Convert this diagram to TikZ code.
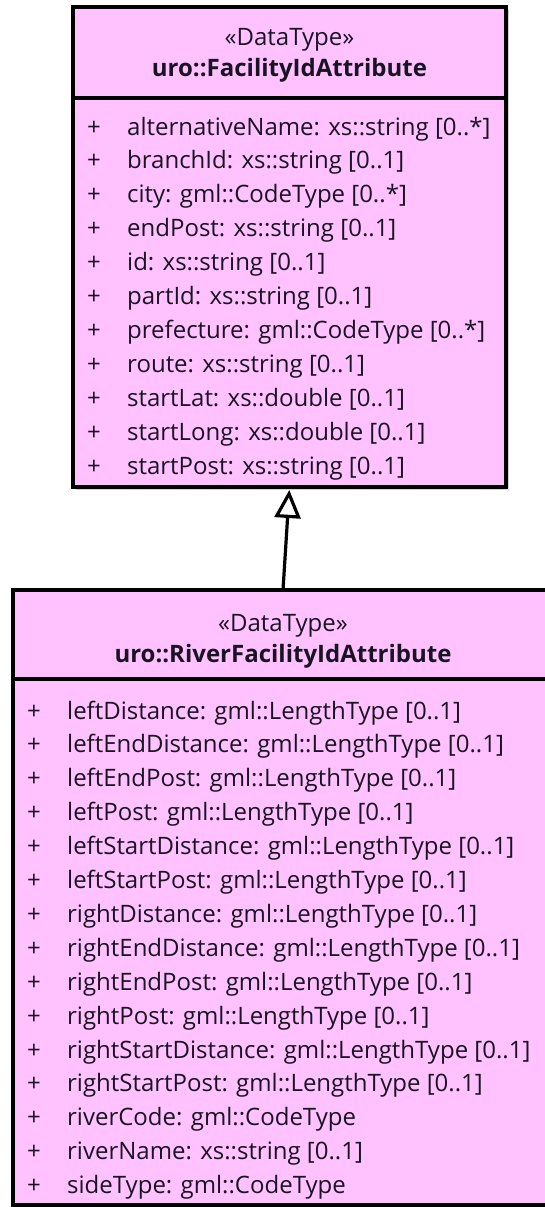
\documentclass[tikz,border=0pt]{standalone}
\usepackage{fontspec}
\setmainfont{Open Sans}
\usetikzlibrary{arrows.meta,positioning,shadows}
\definecolor{umlpink}{RGB}{255,194,255}
\definecolor{umlink}{RGB}{25,20,35}
\tikzset{
  classbox/.style={draw=black,line width=3.2pt,fill=umlpink,anchor=north west,outer sep=0pt,inner sep=0pt,
    drop shadow={shadow xshift=2.5pt,shadow yshift=-2.5pt,fill=black!35,opacity=0.5}},
  classtitle/.style={inner sep=0pt,align=center,text=umlink,font=\fontsize{24}{31}\selectfont},
  attr/.style={anchor=base west,inner sep=0pt,text=umlink,font=\fontsize{24}{28}\selectfont},
  gen/.style={-{Triangle[open,length=28pt,width=26pt]},draw=black,line width=3.2pt,shorten >=3pt}
}
\newcommand{\attrrow}[1]{\makebox[40pt][l]{+}#1}

\begin{document}
\begin{tikzpicture}[x=1pt,y=-1pt]
  \useasboundingbox (0,0) rectangle (544,1207);

  % supertype
  \node[classbox,minimum width=433pt,minimum height=91pt] (fahead) at (73,7) {};
  \node[classtitle] (fatitle) at ([yshift=-3pt]fahead.center)
    {«DataType»\\\textbf{uro::FacilityIdAttribute}};
  \node[classbox,minimum width=433pt,minimum height=389pt] (fabody) at (fahead.south west) {};
  \foreach \txt [count=\i] in {{alternativeName: xs::string [0..*]},{branchId: xs::string [0..1]},
      {city: gml::CodeType [0..*]},{endPost: xs::string [0..1]},{id: xs::string [0..1]},
      {partId: xs::string [0..1]},{prefecture: gml::CodeType [0..*]},{route: xs::string [0..1]},
      {startLat: xs::double [0..1]},{startLong: xs::double [0..1]},{startPost: xs::string [0..1]}}
    \node[attr] (fa\i) at ([shift={(14,{37+33.9*(\i-1)})}]fabody.north west) {\attrrow{\txt}};

  % subtype
  \node[classbox,minimum width=540pt,minimum height=89pt] (rfhead) at (13,590) {};
  \node[classtitle] (rftitle) at ([yshift=-7pt]rfhead.center)
    {«DataType»\\\textbf{uro::RiverFacilityIdAttribute}};
  \node[classbox,minimum width=540pt,minimum height=526pt] (rfbody) at (rfhead.south west) {};
  \foreach \txt [count=\i] in {{leftDistance: gml::LengthType [0..1]},{leftEndDistance: gml::LengthType [0..1]},
      {leftEndPost: gml::LengthType [0..1]},{leftPost: gml::LengthType [0..1]},
      {leftStartDistance: gml::LengthType [0..1]},{leftStartPost: gml::LengthType [0..1]},
      {rightDistance: gml::LengthType [0..1]},{rightEndDistance: gml::LengthType [0..1]},
      {rightEndPost: gml::LengthType [0..1]},{rightPost: gml::LengthType [0..1]},
      {rightStartDistance: gml::LengthType [0..1]},{rightStartPost: gml::LengthType [0..1]},
      {riverCode: gml::CodeType},{riverName: xs::string [0..1]},{sideType: gml::CodeType}}
    \node[attr] (rf\i) at ([shift={(14,{40+33.9*(\i-1)})}]rfbody.north west) {\attrrow{\txt}};

  % generalization
  \draw[gen] (rfhead.north) -- (fabody.south);
\end{tikzpicture}
\end{document}
